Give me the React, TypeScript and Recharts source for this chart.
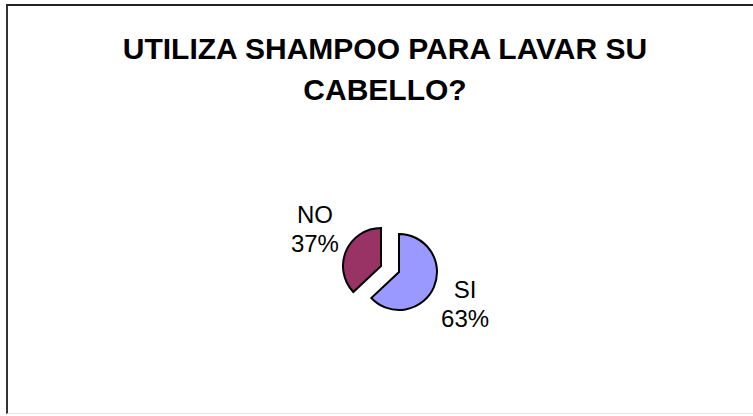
import { PieChart, Pie, Cell } from 'recharts';

const categories = ['SI', 'NO'];
const values = [63, 37];
const percentLabels = ['63%', '37%'];
const sliceColors = ['#9999FF', '#993366'];

const titleLines = ['UTILIZA SHAMPOO PARA LAVAR SU', 'CABELLO?'];

const RADIAN = Math.PI / 180;

const data = categories.map((name, i) => ({ name, value: values[i], pct: percentLabels[i] }));

// the NO slice is pulled out of the pie, so each slice gets its own centre
const centers = [
    { cx: 394, cy: 267 },
    { cx: 376, cy: 261 },
];

function renderLabel(show: number) {
    return (props: any) => {
        const { cx, cy, midAngle, index } = props;
        if (index !== show) return null;
        const cos = Math.cos(-midAngle * RADIAN);
        const sin = Math.sin(-midAngle * RADIAN);
        const x = cx + 72 * cos;
        const y = cy + 86 * sin - 3;
        const d = data[index];
        return (
            <text
                x={x}
                y={y}
                textAnchor="middle"
                fill="#000"
                fontSize={24}
                fontFamily="'Liberation Sans', Arial, sans-serif"
            >
                <tspan x={x} dy={-5.5}>{d.name}</tspan>
                <tspan x={x} dy={29}>{d.pct}</tspan>
            </text>
        );
    };
}

export default function App() {
    return (
        <div
            style={{
                position: 'absolute',
                left: 0,
                top: 0,
                width: 753,
                height: 416,
                background: '#fff',
                overflow: 'hidden',
                fontFamily: "'Liberation Sans', Arial, sans-serif",
            }}
        >
            <div
                style={{
                    position: 'absolute',
                    left: 6,
                    top: 4,
                    width: 800,
                    height: 410,
                    borderTop: '2px solid #222',
                    borderLeft: '2px solid #333',
                    borderBottom: '1px solid #e6e6e6',
                    boxSizing: 'border-box',
                }}
            />
            <div
                style={{
                    position: 'absolute',
                    left: 0,
                    top: 28,
                    width: 770,
                    textAlign: 'center',
                    fontSize: 30,
                    fontWeight: 'bold',
                    lineHeight: '41px',
                    color: '#000',
                }}
            >
                {titleLines.map((t) => (
                    <div key={t}>{t}</div>
                ))}
            </div>
            <div style={{ position: 'absolute', left: 0, top: 0 }}>
                <PieChart width={753} height={416}>
                    {centers.map((c, k) => (
                        <Pie
                            key={k}
                            data={data}
                            dataKey="value"
                            nameKey="name"
                            cx={c.cx}
                            cy={c.cy}
                            outerRadius={38}
                            startAngle={90}
                            endAngle={-270}
                            isAnimationActive={false}
                            labelLine={false}
                            label={renderLabel(k)}
                        >
                            {data.map((entry, i) => (
                                <Cell
                                    key={`cell-${i}`}
                                    fill={i === k ? sliceColors[i] : 'none'}
                                    stroke={i === k ? '#000' : 'none'}
                                    strokeWidth={2}
                                />
                            ))}
                        </Pie>
                    ))}
                </PieChart>
            </div>
        </div>
    );
}
